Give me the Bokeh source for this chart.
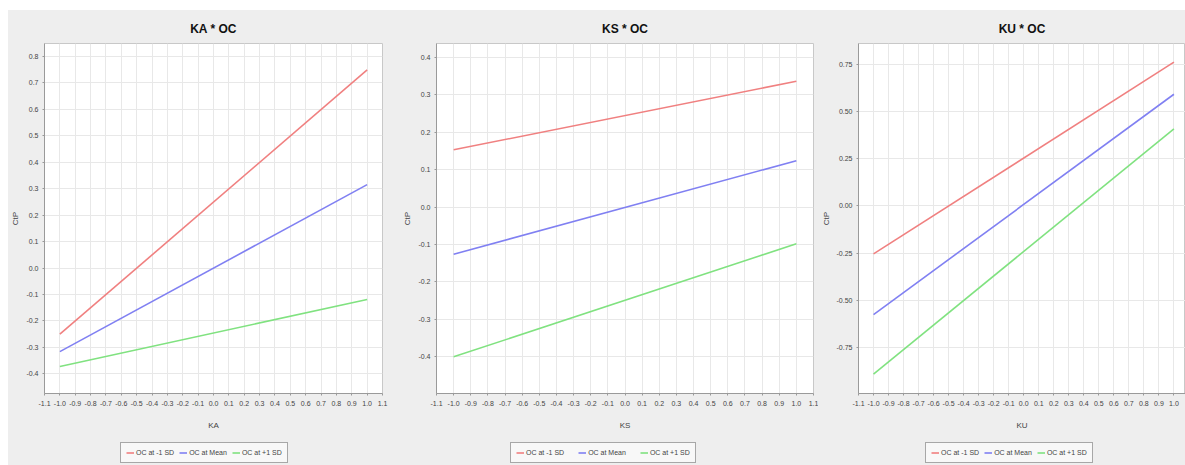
from bokeh.plotting import figure
from bokeh.models import Range1d, FixedTicker, PrintfTickFormatter, Legend, LegendItem
from bokeh.layouts import row, column
from bokeh.embed import file_html
from bokeh.resources import INLINE

# ---- data ----
x_vals = [-1.0, 1.0]
x_ticks = [-1.1, -1.0, -0.9, -0.8, -0.7, -0.6, -0.5, -0.4, -0.3, -0.2, -0.1, 0.0,
           0.1, 0.2, 0.3, 0.4, 0.5, 0.6, 0.7, 0.8, 0.9, 1.0, 1.1]
series_names = ["OC at -1 SD", "OC at Mean", "OC at +1 SD"]

titles = ["KA * OC", "KS * OC", "KU * OC"]
x_labels = ["KA", "KS", "KU"]
y_label = "CtP"

ka_low = [-0.25, 0.748]
ka_mean = [-0.316, 0.315]
ka_high = [-0.372, -0.119]

ks_low = [0.153, 0.336]
ks_mean = [-0.126, 0.124]
ks_high = [-0.400, -0.098]

ku_low = [-0.254, 0.762]
ku_mean = [-0.576, 0.592]
ku_high = [-0.891, 0.409]

ka_yticks = [-0.4, -0.3, -0.2, -0.1, 0.0, 0.1, 0.2, 0.3, 0.4, 0.5, 0.6, 0.7, 0.8]
ks_yticks = [-0.4, -0.3, -0.2, -0.1, 0.0, 0.1, 0.2, 0.3, 0.4]
ku_yticks = [-0.75, -0.5, -0.25, 0.0, 0.25, 0.5, 0.75]

# ---- style ----
colors = ["#f08080", "#8080f2", "#80e280"]
BG = "#eeeeee"
FONT = "Liberation Sans"

panels = [
    dict(title=titles[0], xl=x_labels[0], ys=[ka_low, ka_mean, ka_high], yt=ka_yticks,
         fmt="%.1f", yr=(-0.474, 0.848), xr=(-1.1, 1.1), w=392, bl=33, br=18, lx=112, sp=5),
    dict(title=titles[1], xl=x_labels[1], ys=[ks_low, ks_mean, ks_high], yt=ks_yticks,
         fmt="%.1f", yr=(-0.498, 0.437), xr=(-1.1, 1.1), w=418, bl=27, br=5, lx=110, sp=14),
    dict(title=titles[2], xl=x_labels[2], ys=[ku_low, ku_mean, ku_high], yt=ku_yticks,
         fmt="%.2f", yr=(-0.994, 0.861), xr=(-1.1, 1.077), w=367, bl=30, br=0, lx=107, sp=5),
]

figs = []
legs = []
for pn in panels:
    p = figure(width=pn["w"], height=426, output_backend="svg", toolbar_location=None,
               x_range=Range1d(*pn["xr"]), y_range=Range1d(*pn["yr"]),
               min_border_left=pn["bl"], min_border_right=pn["br"],
               min_border_top=33, min_border_bottom=43,
               background_fill_color="white", border_fill_color=BG,
               outline_line_color="#c8c8c8")
    p.title.text = pn["title"]
    p.title.align = "center"
    p.title.text_font = FONT
    p.title.text_font_size = "12px"
    p.title.text_font_style = "bold"
    p.title.text_color = "#111111"
    p.title.standoff = 16

    for ys, c in zip(pn["ys"], colors):
        p.line(x_vals, ys, line_color=c, line_width=1.6)

    for ax in (p.xaxis[0], p.yaxis[0]):
        ax.axis_line_color = "#9a9a9a"
        ax.major_tick_line_color = "#9a9a9a"
        ax.major_tick_out = 2
        ax.major_tick_in = 0
        ax.minor_tick_line_color = None
        ax.major_label_text_font = FONT
        ax.major_label_text_font_size = "7px"
        ax.major_label_text_color = "#444444"
        ax.axis_label_text_font = FONT
        ax.axis_label_text_font_size = "8px"
        ax.axis_label_text_font_style = "normal"
        ax.axis_label_text_color = "#444444"

    p.xaxis[0].ticker = FixedTicker(ticks=x_ticks)
    p.xaxis[0].formatter = PrintfTickFormatter(format="%.1f")
    p.xaxis[0].axis_label = pn["xl"]
    p.xaxis[0].major_label_standoff = 5
    p.xaxis[0].axis_label_standoff = 12
    p.yaxis[0].ticker = FixedTicker(ticks=pn["yt"])
    p.yaxis[0].formatter = PrintfTickFormatter(format=pn["fmt"])
    p.yaxis[0].axis_label = y_label
    p.yaxis[0].major_label_standoff = 4
    p.yaxis[0].axis_label_standoff = 3

    p.xgrid.grid_line_color = "#e8e8e8"
    p.ygrid.grid_line_color = "#e8e8e8"
    p.xgrid.ticker = FixedTicker(ticks=x_ticks)
    p.ygrid.ticker = FixedTicker(ticks=pn["yt"])
    figs.append(p)

    # legend strip under the panel (sample lines lie outside the visible range)
    lg = figure(width=pn["w"], height=29, output_backend="svg", toolbar_location=None,
                x_range=Range1d(0, 1), y_range=Range1d(0, 1),
                x_axis_location=None, y_axis_location=None, min_border=0,
                background_fill_color=BG, border_fill_color=BG, outline_line_color=None)
    lg.grid.visible = False
    rs = [lg.line([5, 6], [5, 6], line_color=c, line_width=1.6) for c in colors]
    legend = Legend(items=[LegendItem(label=n, renderers=[r]) for n, r in zip(series_names, rs)],
                    orientation="horizontal", location=(pn["lx"], 2),
                    label_text_font=FONT, label_text_font_size="7px", label_text_color="#444444",
                    glyph_width=8, glyph_height=9, label_standoff=2, spacing=pn["sp"],
                    padding=5, margin=0, label_height=9,
                    border_line_color="#555555", border_line_width=1,
                    background_fill_color="#f8f8f8", background_fill_alpha=1.0)
    lg.add_layout(legend, "center")
    legs.append(lg)

layout = column(row(*figs, spacing=0, styles={"background-color": BG}),
                row(*legs, spacing=0, styles={"background-color": BG}),
                spacing=0, margin=(10, 0, 0, 8), styles={"background-color": BG})
open("out.html", "w").write(file_html(layout, INLINE))
